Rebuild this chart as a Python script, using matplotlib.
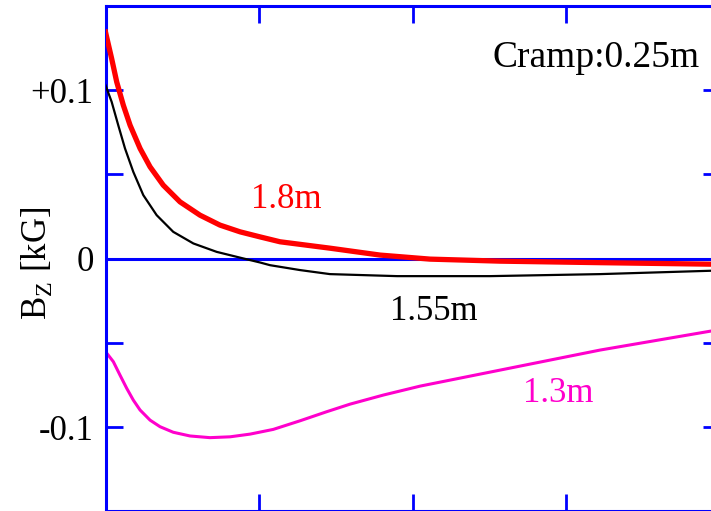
import matplotlib
matplotlib.use('Agg')
import matplotlib.pyplot as plt
from matplotlib.ticker import MultipleLocator

plt.rcParams['font.family'] = ['Liberation Serif', 'DejaVu Serif']
plt.rcParams['mathtext.fontset'] = 'custom'
plt.rcParams['mathtext.rm'] = 'Liberation Serif'

# curves (x in tick units, Bz in kG)
x_18 = [0.0, 0.040, 0.073, 0.116, 0.160, 0.225, 0.290, 0.376, 0.485, 0.615, 0.745,
        0.876, 1.006, 1.136, 1.461, 1.787, 2.113, 2.568, 3.22, 3.942, 4.0]
bz_18 = [0.1345, 0.1188, 0.1049, 0.0911, 0.0792, 0.0654, 0.0545, 0.0436, 0.0337,
         0.0258, 0.0199, 0.0159, 0.0129, 0.0100, 0.0062, 0.0021, -0.0003, -0.0015,
         -0.0024, -0.0033, -0.0034]

x_155 = [0.0, 0.040, 0.083, 0.127, 0.181, 0.246, 0.333, 0.441, 0.572, 0.724, 0.897,
         1.006, 1.071, 1.266, 1.461, 1.898, 2.503, 3.22, 3.942, 4.0]
bz_155 = [0.1030, 0.0931, 0.0792, 0.0654, 0.0515, 0.0377, 0.0258, 0.0159, 0.0090,
          0.0040, 0.0001, -0.0023, -0.0039, -0.0068, -0.0092, -0.0104, -0.0104,
          -0.0092, -0.0072, -0.0071]

x_13 = [0.0, 0.051, 0.094, 0.138, 0.181, 0.225, 0.290, 0.355, 0.441, 0.550, 0.680,
        0.811, 0.941, 1.092, 1.266, 1.440, 1.592, 1.809, 2.048, 2.568, 3.219, 3.942, 4.0]
bz_13 = [-0.0552, -0.0612, -0.0691, -0.0770, -0.0840, -0.0899, -0.0959, -0.0998,
         -0.1031, -0.1053, -0.1063, -0.1058, -0.1042, -0.1014, -0.0963, -0.0909,
         -0.0864, -0.0810, -0.0757, -0.0662, -0.0543, -0.0430, -0.0422]

blue = '#0000ff'
fs = 25

fig = plt.figure(figsize=(7.11, 5.11), dpi=100)
ax = fig.add_axes([105.5 / 711, -0.0005, (720 - 105.5) / 711, 0.9888])

ax.axhline(0, color=blue, lw=2.2, zorder=1)
ax.plot(x_13, bz_13, color='#ff00cc', lw=2.2, zorder=2)
ax.plot(x_155, bz_155, color='black', lw=1.6, zorder=3)
ax.plot(x_18, bz_18, color='#ff0000', lw=3.8, zorder=4)

ax.set_xlim(0, 4)
ax.set_ylim(-0.15, 0.15)

ax.xaxis.set_major_locator(MultipleLocator(1))
ax.yaxis.set_minor_locator(MultipleLocator(0.05))
ax.set_yticks([-0.1, 0, 0.1])
ax.set_yticklabels(['-0.1', '0', '+0.1'])
ax.tick_params(which='both', direction='in', length=12.2, width=2, color=blue,
               top=True, right=True, labelbottom=False, labelsize=fs, pad=8.6)
for s in ax.spines.values():
    s.set_color(blue)
    s.set_linewidth(2.2)

fig.text(37 / 711, 1 - 263 / 511, r'B$_\mathregular{Z}$ [kG]', fontsize=fs,
         rotation=90, ha='center', va='center')

ax.text(3.87, 0.1137, 'Cramp:0.25m', fontsize=27, ha='right', va='baseline')
ax.text(0.947, 0.030, '1.8m', fontsize=fs, color='#ff0000', va='baseline')
ax.text(1.852, -0.0365, '1.55m', fontsize=fs, color='black', va='baseline')
ax.text(2.718, -0.0852, '1.3m', fontsize=fs, color='#ff00cc', va='baseline')

fig.savefig('out.png', dpi=100)
